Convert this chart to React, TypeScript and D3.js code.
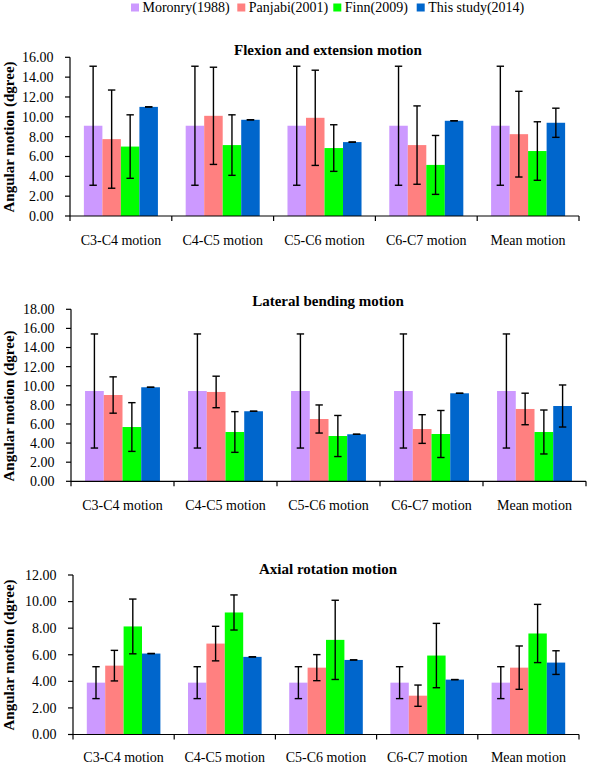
import React from "react";
import * as d3 from "d3";

const categories = ["C3-C4 motion", "C4-C5 motion", "C5-C6 motion", "C6-C7 motion", "Mean motion"];
const seriesNames = ["Moronry(1988)", "Panjabi(2001)", "Finn(2009)", "This study(2014)"];
const seriesColors = ["#CC99FF", "#FF8080", "#00FF00", "#0066CC"];

// Flexion and extension
const flexMoronry = [9.1, 9.1, 9.1, 9.1, 9.1];
const flexMoronryErr = [6.0, 6.0, 6.0, 6.0, 6.0];
const flexPanjabi = [7.75, 10.1, 9.9, 7.15, 8.25];
const flexPanjabiErr = [4.95, 4.9, 4.8, 3.95, 4.32];
const flexFinn = [7.0, 7.15, 6.85, 5.15, 6.55];
const flexFinnErr = [3.2, 3.05, 2.35, 2.97, 2.95];
const flexThis = [11.0, 9.7, 7.45, 9.6, 9.4];
const flexThisErr = [0, 0, 0, 0, 1.47];

// Lateral bending
const latMoronry = [9.45, 9.45, 9.45, 9.45, 9.45];
const latMoronryErr = [5.97, 5.97, 5.97, 5.97, 5.97];
const latPanjabi = [9.03, 9.35, 6.52, 5.47, 7.57];
const latPanjabiErr = [1.9, 1.65, 1.47, 1.5, 1.65];
const latFinn = [5.68, 5.16, 4.74, 4.95, 5.16];
const latFinnErr = [2.55, 2.13, 2.15, 2.46, 2.3];
const latThis = [9.84, 7.33, 4.92, 9.21, 7.88];
const latThisErr = [0, 0, 0, 0, 2.2];

// Axial rotation
const axMoronry = [3.9, 3.9, 3.9, 3.9, 3.9];
const axMoronryErr = [1.2, 1.2, 1.2, 1.2, 1.2];
const axPanjabi = [5.18, 6.84, 5.03, 2.92, 5.03];
const axPanjabiErr = [1.15, 1.3, 0.98, 0.8, 1.63];
const axFinn = [8.13, 9.18, 7.12, 5.94, 7.6];
const axFinnErr = [2.06, 1.32, 2.98, 2.42, 2.19];
const axThis = [6.09, 5.84, 5.61, 4.13, 5.41];
const axThisErr = [0, 0, 0, 0, 0.89];

const panelTitles = ["Flexion and extension motion", "Lateral bending motion", "Axial rotation motion"];
const panelMax = [16, 18, 12];
const yAxisLabel = "Angular motion (dgree)";

const panelsData = [
  { values: [flexMoronry, flexPanjabi, flexFinn, flexThis], errs: [flexMoronryErr, flexPanjabiErr, flexFinnErr, flexThisErr] },
  { values: [latMoronry, latPanjabi, latFinn, latThis], errs: [latMoronryErr, latPanjabiErr, latFinnErr, latThisErr] },
  { values: [axMoronry, axPanjabi, axFinn, axThis], errs: [axMoronryErr, axPanjabiErr, axFinnErr, axThisErr] },
];

// layout
const layouts = [
  { x0: 70, x1: 579, yTop: 57.3, yBot: 216, titleY: 55, xLabY: 245, yLabY: 137 },
  { x0: 71, x1: 586, yTop: 309.3, yBot: 481.3, titleY: 306, xLabY: 510, yLabY: 406 },
  { x0: 73, x1: 579, yTop: 575, yBot: 734.5, titleY: 574, xLabY: 762, yLabY: 655 },
];

const FONT = "'Liberation Serif', 'Times New Roman', serif";
const legendX = [131, 237.3, 333.3, 416.7];

function Panel({ idx }: { idx: number }) {
  const L = layouts[idx];
  const data = panelsData[idx];
  const max = panelMax[idx];
  const y = d3.scaleLinear().domain([0, max]).range([L.yBot, L.yTop]);
  const xCat = d3.scaleBand<string>().domain(categories).range([L.x0, L.x1]).padding(0);
  const step = xCat.step();
  const bw = step / 5.5;
  const xSer = d3
    .scaleBand<string>()
    .domain(seriesNames)
    .range([(step - 4 * bw) / 2, (step + 4 * bw) / 2])
    .padding(0);
  const ticks = d3.range(0, max + 0.001, 2);
  const fmt = d3.format(".2f");
  const capW = 3.7;
  return (
    <g>
      <text x={328} y={L.titleY} textAnchor="middle" fontFamily={FONT} fontWeight="bold" fontSize={15}>
        {panelTitles[idx]}
      </text>
      <text
        transform={`translate(14,${L.yLabY}) rotate(-90)`}
        textAnchor="middle"
        fontFamily={FONT}
        fontWeight="bold"
        fontSize={15}
      >
        {yAxisLabel}
      </text>
      {seriesNames.map((s, si) =>
        categories.map((c, ci) => {
          const v = data.values[si][ci];
          const bx = (xCat(c) as number) + (xSer(s) as number);
          return (
            <rect
              key={`${s}-${c}`}
              x={bx}
              y={y(v)}
              width={xSer.bandwidth()}
              height={y(0) - y(v)}
              fill={seriesColors[si]}
            />
          );
        })
      )}
      {seriesNames.map((s, si) =>
        categories.map((c, ci) => {
          const v = data.values[si][ci];
          const e = data.errs[si][ci];
          const cx = (xCat(c) as number) + (xSer(s) as number) + xSer.bandwidth() / 2;
          return (
            <g key={`e-${s}-${c}`} stroke="#000" strokeWidth={1.4}>
              <line x1={cx} x2={cx} y1={y(v + e)} y2={y(v - e)} />
              <line x1={cx - capW} x2={cx + capW} y1={y(v + e)} y2={y(v + e)} />
              <line x1={cx - capW} x2={cx + capW} y1={y(v - e)} y2={y(v - e)} />
            </g>
          );
        })
      )}
      {/* y axis */}
      <line x1={L.x0} x2={L.x0} y1={y(0)} y2={y(max)} stroke="#000" strokeWidth={1.2} />
      {ticks.map((t) => (
        <g key={`yt-${t}`}>
          <line x1={L.x0 - 5} x2={L.x0} y1={y(t)} y2={y(t)} stroke="#000" strokeWidth={1.2} />
          <text x={L.x0 - 16.5} y={y(t)} dy="0.35em" textAnchor="end" fontFamily={FONT} fontSize={14}>
            {fmt(t)}
          </text>
        </g>
      ))}
      {/* x axis */}
      <line x1={L.x0} x2={L.x1} y1={y(0)} y2={y(0)} stroke="#000" strokeWidth={1.2} />
      {categories.concat([""]).map((c, i) => {
        const xx = L.x0 + i * step;
        return <line key={`xt-${i}`} x1={xx} x2={xx} y1={y(0)} y2={y(0) + 5} stroke="#000" strokeWidth={1.2} />;
      })}
      {categories.map((c) => (
        <text
          key={`xl-${c}`}
          x={(xCat(c) as number) + step / 2}
          y={L.xLabY}
          textAnchor="middle"
          fontFamily={FONT}
          fontSize={14}
        >
          {c}
        </text>
      ))}
    </g>
  );
}

export default function App() {
  return (
    <svg
      width={589}
      height={765}
      style={{ position: "absolute", left: 0, top: 0, display: "block", background: "#fff" }}
    >
      <rect x={0} y={0} width={589} height={765} fill="#fff" />
      {seriesNames.map((s, i) => (
        <g key={`lg-${s}`}>
          <rect x={legendX[i]} y={3.5} width={8} height={8} fill={seriesColors[i]} />
          <text x={legendX[i] + 11.5} y={12} fontFamily={FONT} fontSize={14}>
            {s}
          </text>
        </g>
      ))}
      {[0, 1, 2].map((i) => (
        <Panel key={i} idx={i} />
      ))}
    </svg>
  );
}
